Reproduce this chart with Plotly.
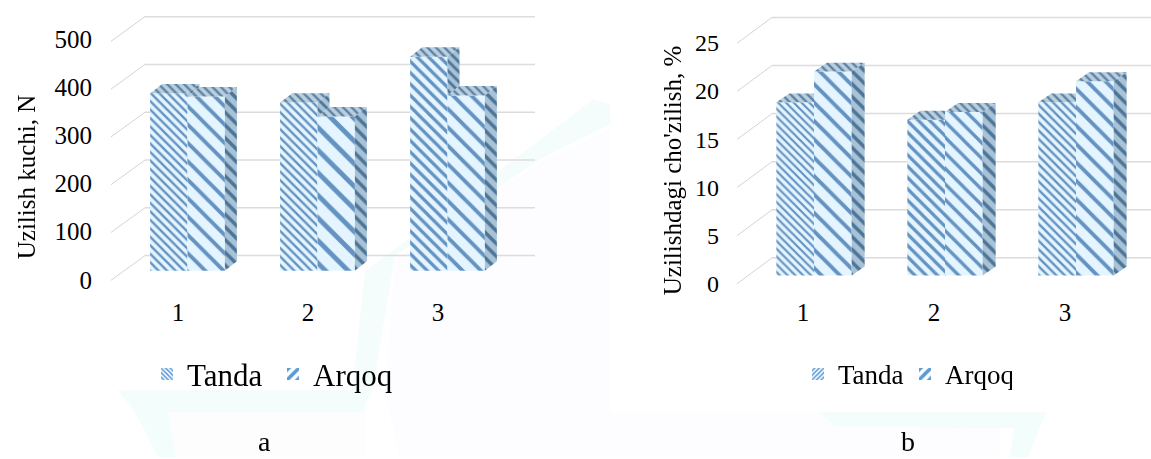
import plotly.graph_objects as go

W, H = 1151, 459
categories = [1, 2, 3]
series_names = ["Tanda", "Arqoq"]
a_tanda = [371, 352, 448]
a_arqoq = [365, 323, 367]
a_ticks = [0, 100, 200, 300, 400, 500]
b_tanda = [18.0, 16.2, 18.0]
b_arqoq = [21.2, 17.0, 20.2]
b_ticks = [0, 5, 10, 15, 20, 25]
a_ytitle = "Uzilish kuchi, N"
b_ytitle = "Uzilishdagi cho'zilish, %"

BG, FG = "#e4f5ff", "#6593c1"
TOP_BG, TOP_FG = "#b9cfe0", "#5f83a3"
SIDE_BG, SIDE_FG = "#a8c3d8", "#4f7596"
GRID = "#dcdcdc"
BAR_W = 0.2875
DOM_TOP, DOM_BOT = 0, 296
FONT = "Liberation Serif"

charts = [
    dict(name="a", t=a_tanda, q=a_arqoq, ticks=a_ticks, title=a_ytitle,
         left=100, right=560, x1=187.5, xstep=130, y0=272, py=0.48,
         depth_x=12, depth_y=9.5, back_y0=256.7, back_left=145, back_right=535,
         front_left=111, front_y0=281.5, lab_y0=281, lab_py=0.484, lab_x=178, lab_right=92,
         tsize=[6, 6, 8], qsize=[13, 16, 13], title_x=26, title_y=178, yfont=25),
    dict(name="b", t=b_tanda, q=b_arqoq, ticks=b_ticks, title=b_ytitle,
         left=730, right=1151, x1=814, xstep=131, y0=276.7, py=9.66,
         depth_x=13, depth_y=9, back_y0=259, back_left=772, back_right=1151,
         front_left=737, front_y0=285, lab_y0=285, lab_py=9.68, lab_x=803, lab_right=719,
         tsize=[5.5, 8, 6], qsize=[13, 11, 13], title_x=672, title_y=171, yfont=24),
]

fig = go.Figure()
layout = dict(shapes=[], annotations=[])


def poly(points):
    return "M" + "L".join(f"{x / W:.4f},{1 - y / H:.4f}" for x, y in points) + "Z"


# faint page watermark behind the charts
for pts, col in (
    ([(400, 459), (610, 459), (610, 130), (545, 160), (395, 260), (385, 395)], "#fdfcfe"),
    ([(610, 459), (1000, 459), (1000, 414), (610, 414)], "#fdfcfe"),
    ([(168, 414), (365, 414), (365, 459), (168, 459)], "#fefdfe"),
    ([(360, 414), (350, 414), (365, 273), (593, 100), (610, 105), (610, 125), (545, 157), (395, 257), (372, 395)], "#f4fdfc"),
    ([(118, 392), (365, 392), (365, 414), (168, 414), (176, 459), (158, 459), (134, 412)], "#f3fdfc"),
    ([(820, 414), (1046, 414), (1028, 459), (1010, 459), (1014, 430), (835, 428)], "#f3fdfc"),
):
    layout["shapes"].append(dict(type="path", xref="paper", yref="paper", path=poly(pts), layer="below",
                                 fillcolor=col, line=dict(width=0)))


def add_face(xs, ys, xa, ya, bg, fg, size):
    fig.add_trace(go.Scatter(x=xs, y=ys, xaxis=xa, yaxis=ya, mode="lines", fill="toself",
                             line=dict(width=0), fillcolor=bg, showlegend=False, hoverinfo="skip",
                             fillpattern=dict(shape="\\", fgcolor=fg, bgcolor=bg, size=size, solidity=0.4, fgopacity=1)))


for i, c in enumerate(charts):
    n = i + 1
    xa, ya = ("x" if i == 0 else "x2"), ("y" if i == 0 else "y2")
    xkey, ykey = ("xaxis" if i == 0 else "xaxis2"), ("yaxis" if i == 0 else "yaxis2")
    to_x = lambda px, c=c: 1 + (px - c["x1"]) / c["xstep"]
    to_y = lambda px, c=c: (c["y0"] - px) / c["py"]
    dom_x = [c["left"] / W, c["right"] / W]
    dom_y = [1 - DOM_BOT / H, 1 - DOM_TOP / H]
    layout[xkey] = dict(domain=dom_x, range=[to_x(c["left"]), to_x(c["right"])], visible=False)
    layout[ykey] = dict(domain=dom_y, range=[to_y(DOM_BOT), to_y(DOM_TOP)], visible=False)

    # bars
    for nm, vals, sizes, off, sol in ((series_names[0], c["t"], c["tsize"], -BAR_W, 0.4),
                                      (series_names[1], c["q"], c["qsize"], 0, 0.3)):
        fig.add_trace(go.Bar(x=categories, y=vals, name=nm, xaxis=xa, yaxis=ya, showlegend=False,
                             width=BAR_W, offset=off,
                             marker=dict(color=BG, line=dict(width=0),
                                         pattern=dict(shape="\\", fgcolor=FG, bgcolor=BG, size=sizes,
                                                      solidity=sol, fgopacity=1))))

    # walls: gridlines from tick values
    for tick in c["ticks"]:
        back_v = tick + (c["y0"] - c["back_y0"]) / c["py"]
        front_v = tick + (c["y0"] - c["front_y0"]) / c["py"]
        bl, br, fl = to_x(c["back_left"]), to_x(c["back_right"]), to_x(c["front_left"])
        layout["shapes"].append(dict(type="line", xref=xa, yref=ya, x0=bl, x1=br, y0=back_v, y1=back_v,
                                     layer="below", line=dict(color=GRID, width=1.5)))
        layout["shapes"].append(dict(type="line", xref=xa, yref=ya, x0=fl, x1=bl, y0=front_v, y1=back_v,
                                     layer="below", line=dict(color="#d4d4d4", width=1)))

    # extruded faces
    dx = c["depth_x"] / c["xstep"]
    dv = c["depth_y"] / c["py"]
    for k, x in enumerate(categories):
        t, q = c["t"][k], c["q"][k]
        right_top = x + dx if t >= q else x
        add_face([x - BAR_W, x - BAR_W + dx, right_top, x], [t, t + dv, t + dv, t], xa, ya, TOP_BG, TOP_FG, 6)
        if t > q:
            add_face([x, x + dx, x + dx, x], [t, t + dv, q + dv, q], xa, ya, SIDE_BG, SIDE_FG, 7)
        add_face([x, x + dx, x + BAR_W + dx, x + BAR_W], [q, q + dv, q + dv, q], xa, ya, TOP_BG, TOP_FG, 6)
        add_face([x + BAR_W, x + BAR_W + dx, x + BAR_W + dx, x + BAR_W], [q, q + dv, dv, 0], xa, ya, SIDE_BG, SIDE_FG, 9)

    # labelled axes, offset from the bars as in the perspective drawing
    xl, yl = f"x{n + 2}", f"y{n + 2}"
    lab_x = lambda px, c=c: 1 + (px - c["lab_x"]) / c["xstep"]
    lab_y = lambda px, c=c: (c["lab_y0"] - px) / c["lab_py"]
    layout[f"xaxis{n + 2}"] = dict(domain=dom_x, overlaying=xa, anchor=yl, side="bottom",
                                   range=[lab_x(c["left"]), lab_x(c["right"])],
                                   tickmode="array", tickvals=categories, ticktext=[str(v) for v in categories],
                                   showgrid=False, zeroline=False, showline=False, ticks="",
                                   tickfont=dict(family=FONT, size=25, color="#000"))
    layout[f"yaxis{n + 2}"] = dict(domain=dom_y, overlaying=ya, anchor="free", position=c["lab_right"] / W, side="left",
                                   range=[lab_y(DOM_BOT), lab_y(DOM_TOP)],
                                   tickmode="array", tickvals=c["ticks"], ticktext=[str(v) for v in c["ticks"]],
                                   showgrid=False, zeroline=False, showline=False, ticks="",
                                   tickfont=dict(family=FONT, size=c["yfont"], color="#000"))
    fig.add_trace(go.Scatter(x=categories, y=c["ticks"][:3], xaxis=xl, yaxis=yl, mode="markers", opacity=0,
                             showlegend=False, hoverinfo="skip"))
    layout["annotations"].append(dict(text=c["title"], textangle=-90, xref="paper", yref="paper",
                                      x=c["title_x"] / W, y=1 - c["title_y"] / H, xanchor="center", yanchor="middle",
                                      showarrow=False, font=dict(family=FONT, size=25, color="#000")))

    # legend swatches
    lname = "legend" if i == 0 else "legend2"
    for nm, shape, size in ((series_names[0], "\\" if i == 0 else "/", 4), (series_names[1], "/", 9)):
        fig.add_trace(go.Bar(x=[None], y=[None], name=nm, xaxis=xa, yaxis=ya, legend=lname, showlegend=True,
                             marker=dict(color="#ffffff", line=dict(width=0),
                                         pattern=dict(shape=shape, fgcolor="#5b9bd5", bgcolor="#ffffff", size=size,
                                                      solidity=0.5, fgopacity=1))))

layout["legend"] = dict(orientation="h", x=147 / W, y=1 - 376 / H, yanchor="middle", xanchor="left", bgcolor="rgba(0,0,0,0)",
                        entrywidth=81, entrywidthmode="pixels",
                        font=dict(family=FONT, size=31, color="#000"))
layout["legend2"] = dict(orientation="h", x=798 / W, y=1 - 376 / H, yanchor="middle", xanchor="left", bgcolor="rgba(0,0,0,0)",
                         entrywidth=62, entrywidthmode="pixels",
                         font=dict(family=FONT, size=27, color="#000"))

for text, px in (("a", 264), ("b", 908)):
    layout["annotations"].append(dict(text=text, xref="paper", yref="paper", x=px / W, y=1 - 443 / H,
                                      xanchor="center", yanchor="middle", showarrow=False,
                                      font=dict(family=FONT, size=28, color="#000")))

fig.update_layout(width=W, height=H, margin=dict(l=0, r=0, t=0, b=0), paper_bgcolor="#ffffff", plot_bgcolor="rgba(0,0,0,0)",
                  barmode="overlay", **layout)
fig.write_html("out.html", post_script="document.body.style.margin='0';", config=dict(displayModeBar=False))
